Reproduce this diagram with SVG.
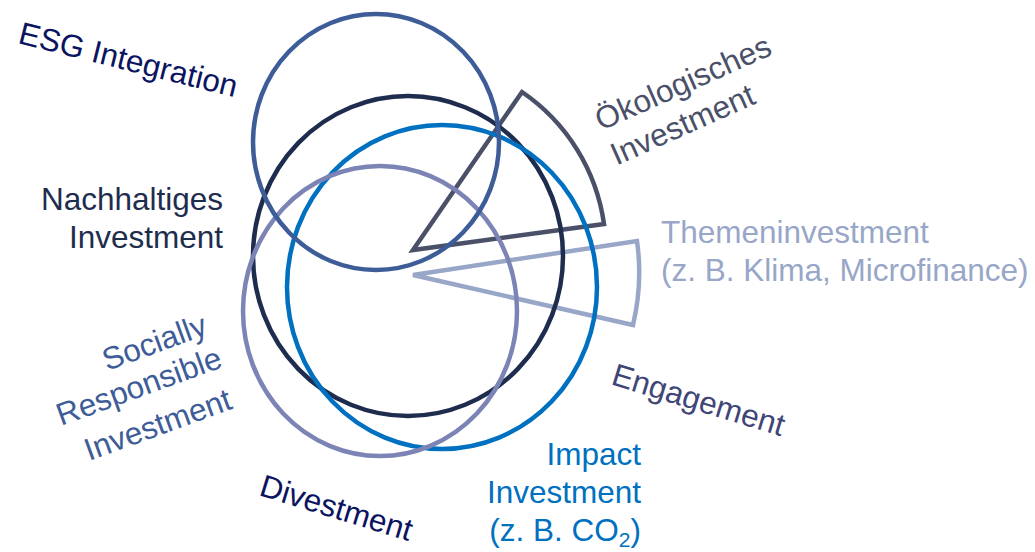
<svg xmlns="http://www.w3.org/2000/svg" width="1035" height="552" viewBox="0 0 1035 552">
  <style>
    .ring { fill: none; stroke-width: 4.5; }
    .wedge { fill: none; stroke-width: 4.5; stroke-linejoin: miter; }
    .lbl { font-family: "Liberation Sans", Arial, sans-serif; font-size: 31.5px; }
  </style>
  <rect width="1035" height="552" fill="#ffffff"/>

  <!-- sector shapes radiating from the shared centre -->
  <g id="connectors">
    <path id="wedge-oeko" class="wedge" stroke="#4A5068" d="M413,250 L522,92 A192,192 0 0 1 604,224 Z"/>
    <path id="wedge-themen" class="wedge" stroke="#98A6C8" d="M413,275 L637,241 A226,226 0 0 1 633,325 Z"/>
  </g>

  <!-- overlapping approach circles -->
  <g id="node-nachhaltig">
    <ellipse class="ring" stroke="#1E2D4E" cx="408" cy="256" rx="155" ry="160"/>
  </g>
  <g id="node-impact">
    <ellipse class="ring" stroke="#0070C0" cx="442" cy="287" rx="155" ry="162"/>
  </g>
  <g id="node-sri">
    <ellipse class="ring" stroke="#7C84B6" cx="380" cy="311" rx="137" ry="145"/>
  </g>
  <g id="node-esg">
    <ellipse class="ring" stroke="#3E5D98" cx="376" cy="142" rx="123" ry="128"/>
  </g>

  <!-- labels -->
  <g id="label-esg">
    <text class="lbl" fill="#0B1460" transform="translate(17,43) rotate(14)">ESG Integration</text>
  </g>
  <g id="label-nachhaltig">
    <text class="lbl" fill="#1E2D4E" text-anchor="end" x="223" y="210">Nachhaltiges</text>
    <text class="lbl" fill="#1E2D4E" text-anchor="end" x="223" y="248">Investment</text>
  </g>
  <g id="label-oeko">
    <text class="lbl" fill="#4A5068" transform="translate(601,131) rotate(-24)">
      <tspan x="0" y="0">Ökologisches</tspan>
      <tspan x="0" y="38">Investment</tspan>
    </text>
  </g>
  <g id="label-themen">
    <text class="lbl" fill="#98A6C8" x="661" y="243">Themeninvestment</text>
    <text class="lbl" fill="#98A6C8" x="661" y="281">(z. B. Klima, Microfinance)</text>
  </g>
  <g id="label-sri" fill="#3E5D98">
    <text class="lbl" transform="translate(107,371) rotate(-20)">Socially</text>
    <text class="lbl" transform="translate(61,426) rotate(-20)">Responsible</text>
    <text class="lbl" transform="translate(89,461) rotate(-20)">Investment</text>
  </g>
  <g id="label-engagement">
    <text class="lbl" fill="#3F4677" transform="translate(610,384) rotate(17)">Engagement</text>
  </g>
  <g id="label-impact">
    <text class="lbl" fill="#0070C0" text-anchor="end" x="641" y="465">Impact</text>
    <text class="lbl" fill="#0070C0" text-anchor="end" x="641" y="503">Investment</text>
    <text class="lbl" fill="#0070C0" text-anchor="end" x="641" y="541">(z. B. CO<tspan font-size="21px" dy="6">2</tspan><tspan dy="-6">)</tspan></text>
  </g>
  <g id="label-divestment">
    <text class="lbl" fill="#0B1460" transform="translate(258,495) rotate(17)">Divestment</text>
  </g>
</svg>
